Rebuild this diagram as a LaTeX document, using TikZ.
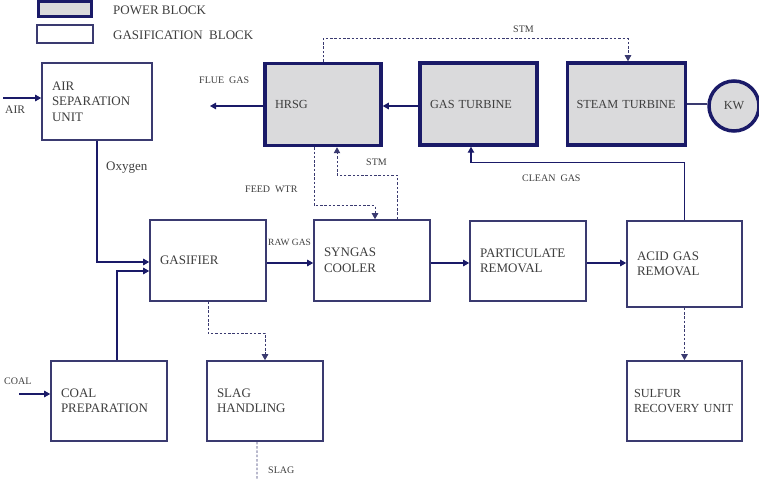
\documentclass[tikz,border=0pt]{standalone}
\usepackage{fontspec}
\setmainfont{Liberation Serif}
\usepackage{tikz}
\usetikzlibrary{arrows.meta,positioning,calc}
\usepackage{xcolor}

\definecolor{navy}{RGB}{26,26,104}
\definecolor{navyl}{RGB}{58,58,112}
\definecolor{boxgrey}{RGB}{218,218,220}
\definecolor{txtgrey}{RGB}{62,62,62}
\newcommand{\boxfont}{\fontsize{13bp}{15.5bp}\selectfont}
\newcommand{\smboxfont}{\fontsize{12.3bp}{15bp}\selectfont}
\newcommand{\lblfont}{\fontsize{10bp}{12bp}\selectfont}

\begin{document}
\begin{tikzpicture}[
  x=1bp, y=-1bp,
  >={Triangle[length=6bp,width=6.5bp]},
  gbox/.style={draw=navyl, line width=1.6bp, fill=white, align=left, text=txtgrey,
               text width=96bp, inner xsep=10bp, minimum height=80bp, font=\boxfont},
  pbox/.style={gbox, draw=navy, line width=3.5bp, fill=boxgrey, minimum height=82bp},
  lbl/.style={anchor=west, inner sep=0pt, text=txtgrey, font=\lblfont},
  flow/.style={draw=navy, line width=1.1bp, ->},
  dflow/.style={draw=navyl, line width=0.9bp, dash pattern=on 2.5bp off 1.8bp, ->}
]
  \useasboundingbox (0,0) rectangle (759,480);

  % legend
  \node[draw=navy, line width=3.5bp, fill=boxgrey, minimum width=53bp, minimum height=15bp,
        inner sep=0pt] (legpow) at (65,9) {};
  \node[draw=navyl, line width=1.4bp, minimum width=56bp, minimum height=18bp,
        inner sep=0pt] (leggas) at (65,34) {};
  \node[lbl, font=\fontsize{13bp}{15bp}\selectfont] (legpowtxt) at (113,10) {POWER BLOCK};
  \node[lbl, font=\fontsize{13bp}{15bp}\selectfont] (leggastxt) at (113,35) {GASIFICATION~ BLOCK};

  % power block
  \node[pbox, font=\smboxfont] (hrsg) at (323,104.5) {HRSG};
  \node[pbox, text width=97bp, font=\smboxfont] (gt) at (478.5,104) {GAS TURBINE};
  \node[pbox, text width=100bp, inner xsep=9bp, font=\smboxfont] (st) at (626.5,104) {STEAM TURBINE};
  \node[circle, draw=navy, line width=3.5bp, fill=boxgrey, minimum size=50bp, inner sep=0pt,
        text=txtgrey, font=\smboxfont] (kw) at (734,106) {KW};

  % gasification block
  \node[gbox, text width=90bp, minimum height=77bp] (asu) at (97,101.5) {AIR\\SEPARATION\\UNIT};
  \node[gbox, minimum height=81bp] (gasifier) at (208,260.5) {GASIFIER};
  \node[gbox, minimum height=81bp] (syngas) at (372,260.5) {SYNGAS\\COOLER};
  \node[gbox] (part) at (528,261) {PARTICULATE\\REMOVAL};
  \node[gbox, text width=95bp, minimum height=86bp] (acid) at (684.5,264) {ACID GAS\\REMOVAL};
  \node[gbox] (coal) at (109,401) {COAL\\PREPARATION};
  \node[gbox] (slag) at (265,401) {SLAG\\HANDLING};
  \node[gbox, text width=101bp, inner xsep=7bp, font=\smboxfont] (sulfur) at (684.5,401) {SULFUR\\RECOVERY UNIT};

  % free ends
  \coordinate (airin) at (3,98);
  \coordinate (coalin) at (19,394);
  \coordinate (flueout) at (210,106);
  \coordinate (slagout) at (257,480);

  % streams
  \draw[flow] (airin) -- (airin -| asu.west);
  \draw[flow] (asu.south) |- ([yshift=-1.5bp]gasifier.west);
  \draw[flow] (coalin) -- (coalin -| coal.west);
  \draw[flow] ([xshift=8bp]coal.north) |- ([yshift=-10.5bp]gasifier.west);
  \draw[flow] ([yshift=-2.5bp]gasifier.east) -- ([yshift=-2.5bp]syngas.west);
  \draw[flow] ([yshift=-2.5bp]syngas.east) -- ([yshift=-2.5bp]syngas.east -| part.west);
  \draw[flow] ([yshift=-2bp]part.east) -- ([yshift=-2bp]part.east -| acid.west);
  \draw[flow] (acid.north) -- ++(0,-58) -| ([xshift=-7.5bp]gt.south);
  \draw[flow] ([yshift=-2bp]gt.west) -- ([yshift=-2bp]gt.west -| hrsg.east);
  \draw[flow] ([yshift=-1.5bp]hrsg.west) -- (flueout);
  \draw[draw=navyl, line width=1.1bp] (st.east) -- (st.east -| kw.west);
  \draw[dflow] (hrsg.north) -- ++(0,-23) -| ([xshift=1.5bp]st.north);
  \draw[dflow] ([xshift=-9bp]hrsg.south) -- ++(0,58.5) -| ([xshift=3bp]syngas.north);
  \draw[dflow] ([xshift=25bp]syngas.north) -- ++(0,-44) -| ([xshift=14bp]hrsg.south);
  \draw[dflow] (gasifier.south) -- ++(0,31.5) -| (slag.north);
  \draw[dflow, -] ([xshift=-8bp]slag.south) -- (slagout);
  \draw[dflow] (acid.south) -- (sulfur.north);

  % stream labels
  \node[lbl, font=\fontsize{11.5bp}{13bp}\selectfont] (airlbl) at (5,110) {AIR};
  \node[lbl, font=\boxfont] (oxlbl) at (106,168) {Oxygen};
  \node[lbl] (fluelbl) at (199,80) {FLUE~ GAS};
  \node[lbl] (stmtop) at (513,29) {STM};
  \node[lbl] (cleanlbl) at (522,178) {CLEAN~ GAS};
  \node[lbl] (feedlbl) at (245,189) {FEED~ WTR};
  \node[lbl] (stmlow) at (366,162) {STM};
  \node[lbl, font=\fontsize{9.5bp}{11bp}\selectfont] (rawlbl) at (268,242) {RAW GAS};
  \node[lbl] (coallbl) at (4,381) {COAL};
  \node[lbl] (slaglbl) at (268,470) {SLAG};
\end{tikzpicture}
\end{document}
